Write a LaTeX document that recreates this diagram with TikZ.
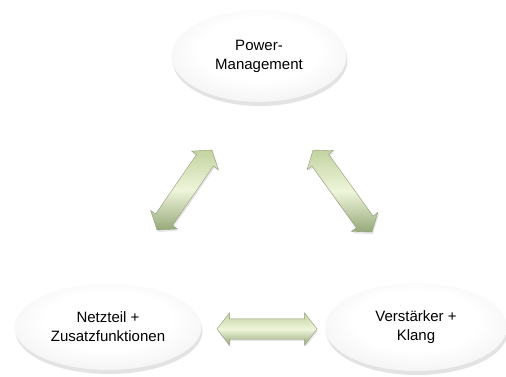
\documentclass[tikz,border=0pt]{standalone}
\usepackage{fontspec}
\setmainfont{Liberation Sans}
\usetikzlibrary{shapes.geometric,shapes.arrows,shadows}
\definecolor{arrLight}{HTML}{EEF5DA}
\definecolor{arrTop}{HTML}{C3D3A0}
\definecolor{arrDark}{HTML}{97A97A}
\definecolor{arrLine}{HTML}{8E9C78}
\definecolor{ellEdge}{HTML}{B0B0B0}
\pgfdeclareradialshading{bubshade}{\pgfpoint{0bp}{5bp}}{%
  color(0bp)=(white); color(17bp)=(white); color(27bp)=(white!88!ellEdge);
  color(35bp)=(ellEdge); color(45bp)=(ellEdge!75!black); color(60bp)=(ellEdge!75!black)}
\tikzset{
  bubble/.style={ellipse, inner sep=0pt, align=center,
    font=\fontsize{15}{19}\selectfont,
    shading=bubshade, draw=none,
    drop shadow={opacity=0.22, shadow xshift=1pt, shadow yshift=-4pt}},
  dblarrow/.style={double arrow, draw=arrLine, line width=0.4pt,
    inner xsep=0pt, inner ysep=10pt, double arrow head extend=6pt,
    double arrow tip angle=105,
    top color=arrTop, bottom color=arrDark, middle color=arrLight,
    drop shadow={opacity=0.2, shadow xshift=1pt, shadow yshift=-2pt}}
}
\begin{document}
\begin{tikzpicture}[x=1pt,y=-1pt]
\useasboundingbox (0,0) rectangle (506,376);
\node[bubble, minimum width=175pt, minimum height=92pt] (pm) at (259,56) {Power-\\Management};
\node[bubble, minimum width=187pt, minimum height=86pt] (nt) at (108,327) {Netzteil +\\Zusatzfunktionen};
\node[bubble, minimum width=182pt, minimum height=88pt] (vk) at (416,327) {Verstärker +\\Klang};
\node[dblarrow, minimum height=100pt] (ah) at (267,329) {};
\node[dblarrow, minimum height=97pt, rotate=55.5] (al) at (184.5,190) {};
\node[dblarrow, minimum height=101pt, rotate=-54.3] (ar) at (342.5,191) {};
\end{tikzpicture}
\end{document}
